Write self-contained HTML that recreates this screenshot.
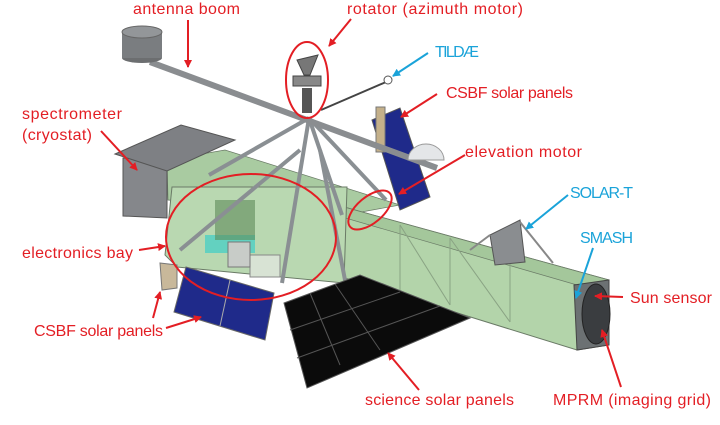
<!DOCTYPE html>
<html><head><meta charset="utf-8"><style>
html,body{margin:0;padding:0;background:#fff;width:720px;height:425px;overflow:hidden}
text{font-family:"Liberation Sans",sans-serif;font-size:16px}
.r{fill:#e31e24}.b{fill:#1aa3d9}
</style></head><body>
<svg width="720" height="425" viewBox="0 0 720 425" xmlns="http://www.w3.org/2000/svg">
<defs>
<marker id="ar" markerWidth="8" markerHeight="8" refX="7" refY="4" orient="auto" markerUnits="userSpaceOnUse"><path d="M0,0 L8,4 L0,8 z" fill="#e31e24"/></marker>
<marker id="ab" markerWidth="8" markerHeight="8" refX="7" refY="4" orient="auto" markerUnits="userSpaceOnUse"><path d="M0,0 L8,4 L0,8 z" fill="#1aa3d9"/></marker>
</defs>
<!-- back green beam -->
<polygon points="167,160 225,150 400,205 345,215 168,200" fill="#a9cba1" stroke="#6a7a66" stroke-width="0.7"/>
<!-- spectrometer -->
<polygon points="123,158 167,160 167,218 123,216" fill="#85878b" stroke="#555"/>
<polygon points="115,154 181,125 235,140 167,171" fill="#7e8084" stroke="#555"/>
<!-- right solar panel top -->
<polygon points="372,120 400,108 430,197 400,210" fill="#1f2a8a" stroke="#555"/>
<rect x="376" y="107" width="9" height="45" fill="#c4b08a" stroke="#777"/>
<!-- long beam -->
<polygon points="344,207 609,280 609,345 577,350 335,275" fill="#b3d4aa" stroke="#6a7a66"/>
<polygon points="344,207 609,280 577,285 335,215" fill="#a4c79b" stroke="#6a7a66" stroke-width="0.7"/>
<line x1="400" y1="225" x2="400" y2="290" stroke="#8aa384"/><line x1="450" y1="238" x2="450" y2="305" stroke="#8aa384"/><line x1="510" y1="255" x2="510" y2="322" stroke="#8aa384"/>
<line x1="400" y1="225" x2="450" y2="305" stroke="#8aa384"/><line x1="450" y1="238" x2="510" y2="322" stroke="#8aa384"/>
<polygon points="574,285 609,280 609,345 577,350" fill="#6c7173" stroke="#444"/>
<ellipse cx="596" cy="314" rx="14" ry="30" fill="#3a3d40" stroke="#222"/>
<!-- electronics bay -->
<polygon points="172,187 347,187 344,283 177,267 165,255" fill="#b9d8b1" stroke="#6a7a66"/>
<rect x="205" y="235" width="50" height="18" fill="#4dd0c4" opacity="0.8"/>
<rect x="215" y="200" width="40" height="40" fill="#5e8a58" opacity="0.6"/>
<rect x="250" y="255" width="30" height="22" fill="#d8e3d4" stroke="#888"/>
<rect x="228" y="242" width="22" height="25" fill="#c8ccc8" stroke="#777"/>
<!-- tower -->
<g stroke="#8a8f93" stroke-width="4" fill="none">
<line x1="309" y1="118" x2="209" y2="175"/><line x1="309" y1="118" x2="282" y2="283"/>
<line x1="309" y1="118" x2="342" y2="215"/><line x1="309" y1="118" x2="386" y2="200"/>
<line x1="300" y1="150" x2="180" y2="250"/><line x1="320" y1="150" x2="345" y2="280"/>
</g>
<!-- boom -->
<line x1="150" y1="62" x2="437" y2="168" stroke="#8a8d90" stroke-width="6"/>
<line x1="321" y1="110" x2="386" y2="82" stroke="#444" stroke-width="2"/>
<circle cx="388" cy="80" r="4" fill="#fff" stroke="#555"/>
<ellipse cx="142" cy="58" rx="20" ry="5" fill="#6c6e70"/>
<rect x="122" y="32" width="40" height="26" fill="#7a7d80"/>
<ellipse cx="142" cy="32" rx="20" ry="6" fill="#939699" stroke="#666"/>
<!-- rotator -->
<polygon points="297,60 318,55 310,75 304,75" fill="#777" stroke="#444"/>
<rect x="293" y="76" width="28" height="10" fill="#888" stroke="#444"/>
<rect x="302" y="88" width="10" height="25" fill="#555"/>
<!-- dome -->
<path d="M408,160 A18,16 0 0 1 444,160 Z" fill="#e4e6e8" stroke="#999"/>
<!-- SOLAR-T -->
<polygon points="490,235 520,220 525,262 495,265" fill="#8a8d90" stroke="#555"/>
<line x1="490" y1="235" x2="470" y2="250" stroke="#888" stroke-width="2"/><line x1="520" y1="222" x2="553" y2="263" stroke="#888" stroke-width="2"/>
<!-- solar panels -->
<polygon points="160,263 177,265 177,288 162,290" fill="#c8b89a" stroke="#777"/>
<polygon points="174,312 186,267 274,293 265,340" fill="#1f2a8a" stroke="#666"/>
<line x1="230" y1="280" x2="220" y2="326" stroke="#aaa"/>
<polygon points="284,303 360,275 470,318 307,388" fill="#0b0b0b" stroke="#555"/>
<g stroke="#555" stroke-width="1"><line x1="310" y1="293" x2="340" y2="365"/><line x1="335" y1="284" x2="380" y2="350"/><line x1="290" y1="330" x2="400" y2="292"/><line x1="297" y1="358" x2="440" y2="306"/></g>
<!-- ellipses -->
<g fill="none" stroke="#e31e24" stroke-width="2">
<ellipse cx="251" cy="237" rx="85" ry="63"/>
<ellipse cx="307" cy="80" rx="21" ry="38"/>
<ellipse cx="370" cy="210" rx="26" ry="13" transform="rotate(-40 370 210)"/>
</g>
<!-- arrows -->
<g stroke="#e31e24" stroke-width="2" marker-end="url(#ar)">
<line x1="188" y1="20" x2="188" y2="67"/>
<line x1="351" y1="19" x2="329" y2="46"/>
<line x1="437" y1="94" x2="401" y2="117"/>
<line x1="101" y1="131" x2="137" y2="170"/>
<line x1="465" y1="155" x2="399" y2="194"/>
<line x1="139" y1="250" x2="165" y2="246"/>
<line x1="623" y1="297" x2="595" y2="296"/>
<line x1="153" y1="318" x2="160" y2="292"/>
<line x1="166" y1="328" x2="201" y2="317"/>
<line x1="419" y1="390" x2="388" y2="353"/>
<line x1="621" y1="387" x2="602" y2="330"/>
</g>
<g stroke="#1aa3d9" stroke-width="2" marker-end="url(#ab)">
<line x1="428" y1="53" x2="393" y2="76"/>
<line x1="568" y1="195" x2="526" y2="229"/>
<line x1="593" y1="248" x2="576" y2="298"/>
</g>
<!-- labels -->
<text class="r" x="133" y="14" textLength="107">antenna boom</text>
<text class="r" x="347" y="14" textLength="176">rotator (azimuth motor)</text>
<text class="b" x="435" y="57" textLength="44">TILDÆ</text>
<text class="r" x="446" y="98" textLength="127">CSBF solar panels</text>
<text class="r" x="22" y="119" textLength="100">spectrometer</text>
<text class="r" x="22" y="140" textLength="70">(cryostat)</text>
<text class="r" x="465" y="157" textLength="117">elevation motor</text>
<text class="b" x="570" y="198" textLength="63">SOLAR-T</text>
<text class="b" x="580" y="243" textLength="53">SMASH</text>
<text class="r" x="22" y="258" textLength="111">electronics bay</text>
<text class="r" x="630" y="303" textLength="82">Sun sensor</text>
<text class="r" x="34" y="336" textLength="129">CSBF solar panels</text>
<text class="r" x="365" y="405" textLength="149">science solar panels</text>
<text class="r" x="553" y="405" textLength="158">MPRM (imaging grid)</text>
</svg>
</body></html>
